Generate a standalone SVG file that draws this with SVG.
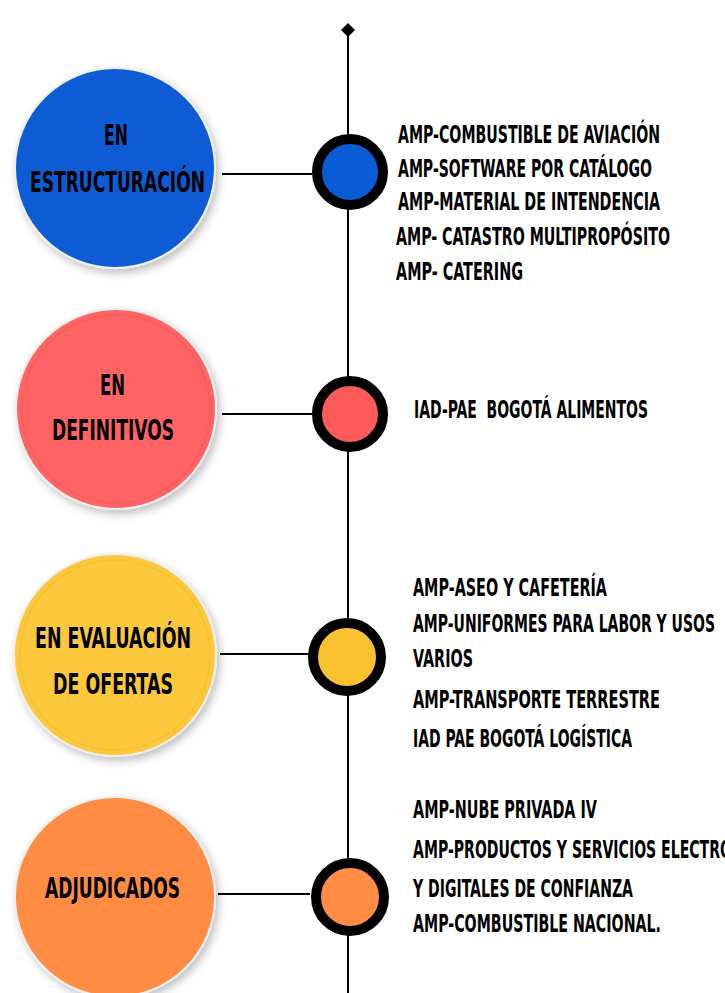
<svg xmlns="http://www.w3.org/2000/svg" width="725" height="993" viewBox="0 0 725 993">
<style>
.t{font-family:"DejaVu Sans Condensed","DejaVu Sans","Liberation Sans",sans-serif;font-weight:bold;fill:#000;}
.lbl{font-size:28px;}
.item{font-size:25px;}
.conn{stroke:#000;stroke-width:2;fill:none;}
.ring{stroke:#000;stroke-width:10;}
</style>
<defs>
<filter id="sh" x="-20%" y="-20%" width="150%" height="150%">
<feDropShadow dx="3" dy="4" stdDeviation="4" flood-color="#000" flood-opacity="0.25"/>
</filter>
</defs>
<rect width="725" height="993" fill="#fff"/>
<g id="connectors">
<line class="conn" x1="348" y1="30" x2="348" y2="993"/>
<path d="M348,23 L355,30 L348,37 L341,30 Z" fill="#000"/>
<line class="conn" x1="222" y1="174" x2="312" y2="174"/>
<line class="conn" x1="222" y1="414" x2="312" y2="414"/>
<line class="conn" x1="220" y1="654" x2="309" y2="654"/>
<line class="conn" x1="218" y1="894" x2="310" y2="894"/>
</g>
<g id="node-estructuracion">
<circle cx="115" cy="168" r="100" fill="#0A5BD6" stroke="#eeeeee" stroke-width="2" filter="url(#sh)"/>
<text class="t lbl" transform="translate(104,145) scale(0.65,1)" textLength="36.9" lengthAdjust="spacingAndGlyphs">EN</text>
<text class="t lbl" transform="translate(30,192) scale(0.65,1)" textLength="269.2" lengthAdjust="spacingAndGlyphs">ESTRUCTURACIÓN</text>
<circle class="ring" cx="350" cy="172" r="33" fill="#0A5BD6"/>
<text class="t item" transform="translate(398,143) scale(0.62,1)" textLength="422.6" lengthAdjust="spacingAndGlyphs">AMP-COMBUSTIBLE DE AVIACIÓN</text>
<text class="t item" transform="translate(398,177) scale(0.62,1)" textLength="409.7" lengthAdjust="spacingAndGlyphs">AMP-SOFTWARE POR CATÁLOGO</text>
<text class="t item" transform="translate(398,210) scale(0.62,1)" textLength="422.6" lengthAdjust="spacingAndGlyphs">AMP-MATERIAL DE INTENDENCIA</text>
<text class="t item" transform="translate(396,245) scale(0.62,1)" textLength="441.9" lengthAdjust="spacingAndGlyphs">AMP- CATASTRO MULTIPROPÓSITO</text>
<text class="t item" transform="translate(396,280) scale(0.62,1)" textLength="204.8" lengthAdjust="spacingAndGlyphs">AMP- CATERING</text>
</g>
<g id="node-definitivos">
<circle cx="116" cy="409" r="100" fill="#FF6464" stroke="#eeeeee" stroke-width="2" filter="url(#sh)"/>
<circle cx="116" cy="409" r="94" fill="none" stroke="#F45E5E" stroke-width="1.5"/>
<text class="t lbl" transform="translate(100,395) scale(0.65,1)" textLength="38.5" lengthAdjust="spacingAndGlyphs">EN</text>
<text class="t lbl" transform="translate(52,440) scale(0.65,1)" textLength="187.7" lengthAdjust="spacingAndGlyphs">DEFINITIVOS</text>
<circle class="ring" cx="350" cy="414" r="33" fill="#FF5A5A"/>
<text class="t item" xml:space="preserve" transform="translate(414,418) scale(0.62,1)" textLength="377.4" lengthAdjust="spacingAndGlyphs">IAD-PAE  BOGOTÁ ALIMENTOS</text>
</g>
<g id="node-evaluacion">
<circle cx="115" cy="655" r="101" fill="#FBC73A" stroke="#eeeeee" stroke-width="2" filter="url(#sh)"/>
<circle cx="115" cy="655" r="95" fill="none" stroke="#F6C12E" stroke-width="1.5"/>
<text class="t lbl" transform="translate(35,648) scale(0.65,1)" textLength="240" lengthAdjust="spacingAndGlyphs">EN EVALUACIÓN</text>
<text class="t lbl" transform="translate(53,694) scale(0.65,1)" textLength="184.6" lengthAdjust="spacingAndGlyphs">DE OFERTAS</text>
<circle class="ring" cx="347" cy="657" r="34" fill="#FBC12E"/>
<text class="t item" transform="translate(413,596) scale(0.62,1)" textLength="312.9" lengthAdjust="spacingAndGlyphs">AMP-ASEO Y CAFETERÍA</text>
<text class="t item" transform="translate(413,632) scale(0.62,1)" textLength="487.1" lengthAdjust="spacingAndGlyphs">AMP-UNIFORMES PARA LABOR Y USOS</text>
<text class="t item" transform="translate(413,667) scale(0.62,1)" textLength="96.8" lengthAdjust="spacingAndGlyphs">VARIOS</text>
<text class="t item" transform="translate(413,708) scale(0.62,1)" textLength="398.4" lengthAdjust="spacingAndGlyphs">AMP-TRANSPORTE TERRESTRE</text>
<text class="t item" transform="translate(413,747) scale(0.62,1)" textLength="353.2" lengthAdjust="spacingAndGlyphs">IAD PAE BOGOTÁ LOGÍSTICA</text>
</g>
<g id="node-adjudicados">
<circle cx="115" cy="897" r="100" fill="#FF8C42" stroke="#eeeeee" stroke-width="2" filter="url(#sh)"/>
<text class="t lbl" transform="translate(45,898) scale(0.65,1)" textLength="207.7" lengthAdjust="spacingAndGlyphs">ADJUDICADOS</text>
<circle class="ring" cx="350" cy="897" r="34" fill="#FF8C42"/>
<text class="t item" transform="translate(413,818) scale(0.62,1)" textLength="296.8" lengthAdjust="spacingAndGlyphs">AMP-NUBE PRIVADA IV</text>
<text class="t item" transform="translate(413,858) scale(0.62,1)" textLength="514.5" lengthAdjust="spacingAndGlyphs">AMP-PRODUCTOS Y SERVICIOS ELECTRO</text>
<text class="t item" transform="translate(413,897) scale(0.62,1)" textLength="354.8" lengthAdjust="spacingAndGlyphs">Y DIGITALES DE CONFIANZA</text>
<text class="t item" transform="translate(413,932) scale(0.62,1)" textLength="400" lengthAdjust="spacingAndGlyphs">AMP-COMBUSTIBLE NACIONAL.</text>
</g>
</svg>
